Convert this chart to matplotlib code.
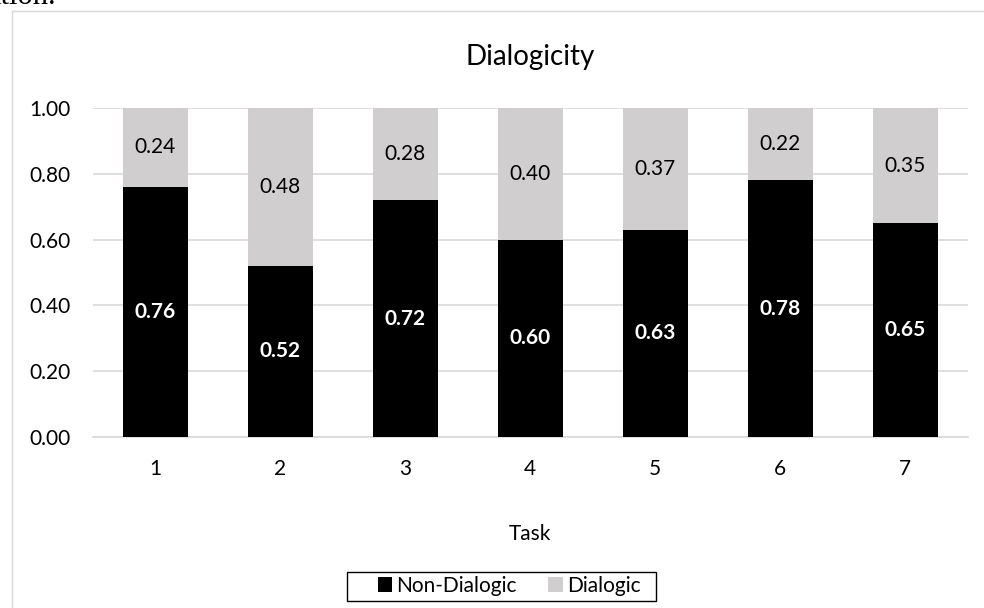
import matplotlib
matplotlib.use("Agg")
import matplotlib.pyplot as plt
from matplotlib.lines import Line2D
from matplotlib.patches import Rectangle
import numpy as np

tasks = ["1", "2", "3", "4", "5", "6", "7"]
non_dialogic = [0.76, 0.52, 0.72, 0.60, 0.63, 0.78, 0.65]
dialogic = [0.24, 0.48, 0.28, 0.40, 0.37, 0.22, 0.35]
y_ticks = [0.0, 0.2, 0.4, 0.6, 0.8, 1.0]

plt.rcParams["font.family"] = ["Lato", "DejaVu Sans"]

fig = plt.figure(figsize=(9.84, 6.08), dpi=100)
W, H = 984, 608

# chart frame (only top and left edges fall inside the image)
fig.add_artist(Line2D([12 / W, 12 / W], [0, 1 - 11 / H], transform=fig.transFigure,
                      color="#d9d9d9", lw=1.0))
fig.add_artist(Line2D([12 / W, 1], [1 - 11 / H, 1 - 11 / H], transform=fig.transFigure,
                      color="#d9d9d9", lw=1.0))

# tail of the preceding document line
fig.text(-12 / W, 1 - 4 / H, "ation.", family="Liberation Serif", fontsize=22,
         ha="left", va="baseline", color="black")

ax = fig.add_axes([92.5 / W, 1 - 437 / H, 875 / W, 329 / H])
x = np.arange(len(tasks))
width = 0.52
black = "#000000"
gray = "#d0cece"

ax.bar(x, non_dialogic, width, color=black, label="Non-Dialogic", zorder=3)
ax.bar(x, dialogic, width, bottom=non_dialogic, color=gray, label="Dialogic", zorder=3)

for xi, nd, d in zip(x, non_dialogic, dialogic):
    ax.text(xi, nd / 2, f"{nd:.2f}", ha="center", va="center", color="white",
            fontsize=15, fontweight="bold", zorder=4)
    ax.text(xi, nd + d / 2, f"{d:.2f}", ha="center", va="center", color="black",
            fontsize=15, zorder=4)

ax.set_xlim(-0.5, len(tasks) - 0.5)
ax.set_ylim(0, 1.0)
ax.set_yticks(y_ticks)
ax.set_yticklabels([f"{v:.2f}" for v in y_ticks])
ax.set_xticks(x)
ax.set_xticklabels(tasks)
ax.tick_params(axis="both", length=0, labelsize=15, colors="black")
ax.tick_params(axis="x", pad=16)
ax.tick_params(axis="y", pad=16)
ax.grid(axis="y", color="#d9d9d9", lw=1.2, zorder=0)
for s in ["top", "right", "left"]:
    ax.spines[s].set_visible(False)
ax.spines["bottom"].set_color("#d9d9d9")
ax.spines["bottom"].set_linewidth(1.2)

fig.text(530 / W, 1 - 534 / H, "Task", ha="center", va="center", fontsize=15)
fig.text(530 / W, 1 - 57 / H, "Dialogicity", ha="center", va="center", fontsize=20)

# legend entries with a wider box around them
leg = fig.legend(loc="center", bbox_to_anchor=(509 / W, 1 - 586 / H), ncol=2,
                 fontsize=15, frameon=False, handlelength=0.7,
                 handleheight=0.7, handletextpad=0.2, columnspacing=1.5,
                 borderpad=0.3)
fig.add_artist(Rectangle((347 / W, 1 - 601 / H), 309 / W, 29 / H,
                         transform=fig.transFigure, fill=False,
                         edgecolor="black", lw=1.0))

fig.savefig("out.png", dpi=100)
